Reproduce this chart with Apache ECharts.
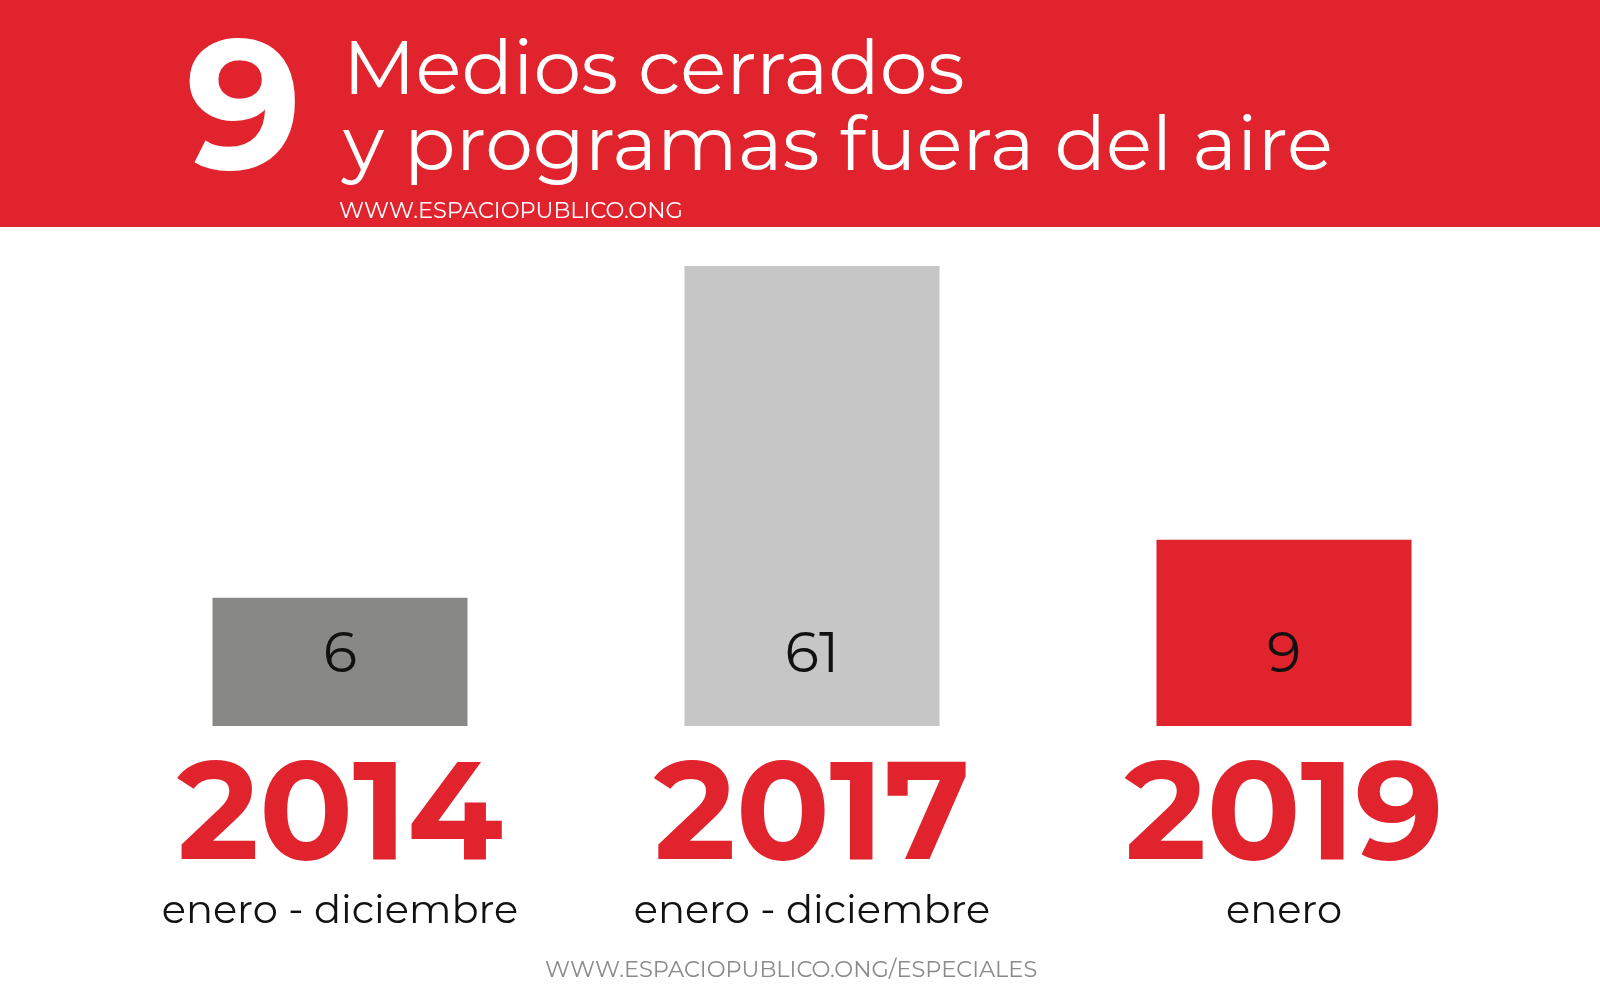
<!DOCTYPE html>
<html><head><meta charset="utf-8">
<script src="https://cdn.jsdelivr.net/npm/echarts@6/dist/echarts.min.js"></script>
<style>html,body{margin:0;padding:0;background:#fff}#c{width:1600px;height:1006px}</style>
</head><body><div id="c"></div>
<script>
const years = ['2014','2017','2019'];
const periods = ['enero - diciembre','enero - diciembre','enero'];
const values = [6, 61, 9];
const colors = ['#888886','#c6c6c6','#e0232c'];
const F = 'Montserrat, "Noto Sans", Lato, sans-serif';
const chart = echarts.init(document.getElementById('c'));
chart.setOption({
  animation:false,
  grid:{left:104,right:80,top:266,bottom:280},
  xAxis:{type:'category',data:years.map((y,i)=>y+'|'+periods[i]),
    axisLine:{show:false},axisTick:{show:false},
    axisLabel:{margin:28,interval:0,formatter:v=>{const p=v.split('|');return '{y|'+p[0]+'}\n{p|'+p[1]+'}';},
      rich:{y:{fontFamily:F,fontWeight:'bold',fontSize:139,color:'#e0232c',lineHeight:128},
            p:{fontFamily:F,fontSize:40,color:'#111',lineHeight:58}}}},
  yAxis:{type:'log',logBase:10,min:2.45,max:61,show:false,splitLine:{show:false}},
  series:[{type:'bar',barWidth:255,
    data:values.map((v,i)=>({value:v,itemStyle:{color:colors[i]}})),
    label:{show:true,position:'insideBottom',distance:42,fontFamily:F,fontSize:56,color:'#111'}}],
  graphic:[
    {type:'rect',shape:{x:0,y:0,width:1600,height:227},style:{fill:'#e0232c'},z:-1},
    {type:'text',left:186,top:24,style:{text:'9',font:'bold 182px '+F,fill:'#fff'}},
    {type:'text',left:343,top:34,style:{text:'Medios cerrados',font:'76px '+F,fill:'#fff'}},
    {type:'text',left:343,top:110,style:{text:'y programas fuera del aire',font:'76px '+F,fill:'#fff'}},
    {type:'text',left:339,top:200,style:{text:'WWW.ESPACIOPUBLICO.ONG',font:'22.5px '+F,fill:'#fff'}},
    {type:'text',left:545,top:959,style:{text:'WWW.ESPACIOPUBLICO.ONG/ESPECIALES',font:'22.5px '+F,fill:'#8a8a8a'}}
  ]
});
</script></body></html>
